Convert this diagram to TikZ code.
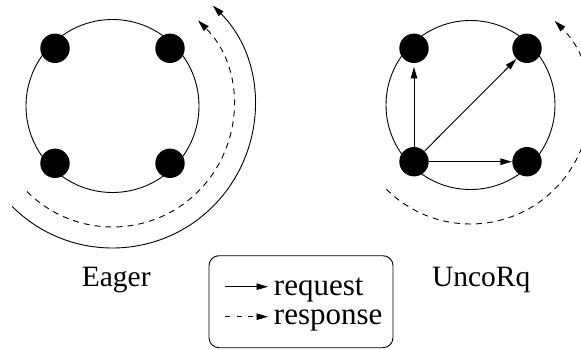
\documentclass[tikz,border=0pt]{standalone}
\usepackage{fontspec}
\setmainfont{Liberation Serif}
\usetikzlibrary{arrows.meta}
\begin{document}
\begin{tikzpicture}[x=1pt,y=1pt,
  line width=0.9pt,
  tip/.style={-{Triangle[length=11.5pt,width=6.5pt]}},
  dashline/.style={dash pattern=on 6pt off 5pt},
  dot/.style={circle,fill=black,draw=none,inner sep=0pt,minimum size=29.4pt},
  ring/.style={circle,draw,inner sep=0pt},
  lbl/.style={font=\fontsize{29.5}{35}\selectfont,anchor=base,inner sep=0pt},
  keytext/.style={font=\fontsize{31}{36}\selectfont,anchor=base west,inner sep=0pt}
]
\useasboundingbox (0,0) rectangle (581,349);

% left group: ring of four processes with the two flows around it
\node[ring,minimum size=173pt] (lring) at (112.5,243) {};
\coordinate (lc) at (112.5,243);
\node[dot] (l1) at (55,300.7) {};
\node[dot] (l2) at (170,300.7) {};
\node[dot] (l3) at (55,185.7) {};
\node[dot] (l4) at (170,185.7) {};
\draw[tip] ([shift={(-135:142)}]lc) arc[start angle=-135,end angle=45,radius=142];
\draw[tip,dashline] ([shift={(-135:121)}]lc) arc[start angle=-135,end angle=45,radius=121];
\node[lbl] (eager) at (116.2,62.3) {Eager};

% right group: one process sends to the other three
\node[ring,minimum size=169pt] (rring) at (470.5,244) {};
\coordinate (rc) at (470.5,244);
\node[dot] (r1) at (414,300.7) {};
\node[dot] (r2) at (527,300.7) {};
\node[dot] (r3) at (414,187.3) {};
\node[dot] (r4) at (527,187.3) {};
\draw[tip,shorten >=3.5pt] (r3) -- (r1);
\draw[tip] (r3) -- (r2);
\draw[tip] (r3) -- (r4);
\draw[tip,dashline] ([shift={(-135:119)}]rc) arc[start angle=-135,end angle=45,radius=119];
\node[lbl] (uncorq) at (481.2,62.3) {UncoRq};

% legend
\node[draw,rounded corners=10pt,minimum width=184pt,minimum height=92pt,inner sep=0pt]
  (legend) at (301,47.3) {};
\coordinate (reqA) at (225,62.3);
\coordinate (reqB) at (268,62.3);
\coordinate (resA) at (225,32.3);
\coordinate (resB) at (268,32.3);
\draw[tip] (reqA) -- (reqB);
\draw[tip,dash pattern=on 5pt off 6.5pt] (resA) -- (resB);
\node[keytext] (req) at (273.5,54) {request};
\node[keytext] (res) at (273.5,25) {response};
\end{tikzpicture}
\end{document}
